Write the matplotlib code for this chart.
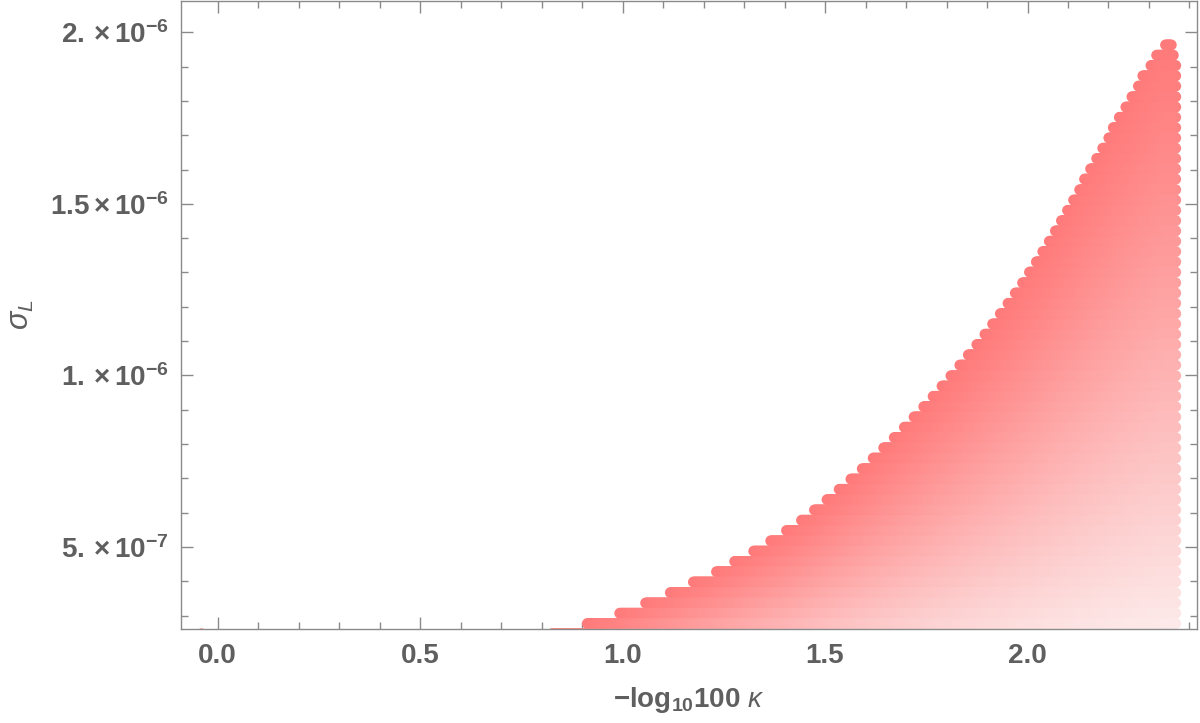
import numpy as np
import matplotlib
matplotlib.use("Agg")
import matplotlib.pyplot as plt
from matplotlib.ticker import FixedLocator, FixedFormatter

plt.rcParams['mathtext.fontset'] = 'custom'
plt.rcParams['mathtext.rm'] = 'Liberation Sans:bold'
plt.rcParams['mathtext.bf'] = 'Liberation Sans:bold'
plt.rcParams['mathtext.it'] = 'Liberation Sans:italic'
plt.rcParams['font.family'] = ['Liberation Sans', 'DejaVu Sans']

# ---- data ----
# sigma_L value of each horizontal row of points
row_sigma = [1.963e-6, 1.933e-6, 1.903e-6, 1.873e-6, 1.843e-6, 1.812e-6, 1.782e-6, 1.752e-6,
             1.722e-6, 1.692e-6, 1.662e-6, 1.632e-6, 1.602e-6, 1.572e-6, 1.541e-6, 1.511e-6,
             1.481e-6, 1.451e-6, 1.421e-6, 1.391e-6, 1.361e-6, 1.331e-6, 1.301e-6, 1.270e-6,
             1.240e-6, 1.210e-6, 1.180e-6, 1.150e-6, 1.120e-6, 1.090e-6, 1.060e-6, 1.030e-6,
             0.999e-6, 0.969e-6, 0.939e-6, 0.909e-6, 0.879e-6, 0.849e-6, 0.819e-6, 0.789e-6,
             0.759e-6, 0.728e-6, 0.698e-6, 0.668e-6, 0.638e-6, 0.608e-6, 0.578e-6, 0.548e-6,
             0.518e-6, 0.488e-6, 0.458e-6, 0.428e-6, 0.398e-6, 0.367e-6, 0.337e-6, 0.307e-6,
             0.277e-6, 0.247e-6]
# smallest -log10(100 kappa) of each row
row_start = [2.341, 2.319, 2.305, 2.285, 2.274, 2.258, 2.243, 2.227,
             2.212, 2.201, 2.186, 2.171, 2.156, 2.141, 2.129, 2.114,
             2.099, 2.084, 2.069, 2.054, 2.038, 2.022, 2.005, 1.988,
             1.970, 1.952, 1.933, 1.914, 1.895, 1.875, 1.854, 1.833,
             1.811, 1.789, 1.767, 1.744, 1.720, 1.696, 1.671, 1.645,
             1.619, 1.592, 1.564, 1.535, 1.505, 1.474, 1.442, 1.405,
             1.366, 1.324, 1.277, 1.232, 1.175, 1.118, 1.057, 0.993,
             0.913, 0.825]
# largest -log10(100 kappa) of each row
row_end = [2.355, 2.360] + [2.366] * 56
# isolated point near the bottom-left
lone_x = [-0.04]
lone_y = [2.47e-7]

xticks_major = [0.0, 0.5, 1.0, 1.5, 2.0]
xtick_labels = ["0.0", "0.5", "1.0", "1.5", "2.0"]
yticks_major = [5e-7, 1e-6, 1.5e-6, 2e-6]
ytick_labels = [r"$5.\times10^{-7}$", r"$1.\times10^{-6}$", r"$1.5\times10^{-6}$", r"$2.\times10^{-6}$"]

# ---- figure ----
fig = plt.figure(figsize=(12, 7.23), dpi=100)
ax = fig.add_axes([181 / 1200, 1 - 628.7 / 723, (1197 - 181) / 1200, (628.7 - 1) / 723])

red = np.array([1.0, 0.48, 0.48])
pale = np.array([0.99, 0.925, 0.925])

starts = np.array(row_start)
sig = np.array(row_sigma)
order = np.argsort(starts)


def edge_sigma(x):
    return np.interp(x, starts[order], sig[order])


for ys, xs, xe in zip(row_sigma, row_start, row_end):
    n = max(2, int((xe - xs) / 0.003) + 1)
    xx = np.linspace(xs, xe, n)
    r = ys / edge_sigma(xx)
    f = np.clip((1 - r) / 0.88, 0, 1) ** 1.2
    cols = red[None, :] * (1 - f[:, None]) + pale[None, :] * f[:, None]
    ax.scatter(xx, np.full_like(xx, ys), s=62, c=cols, edgecolors='none', zorder=2)

ax.scatter(lone_x, lone_y, s=62, c=[red], edgecolors='none', zorder=2)

ax.set_xlim(-0.0906, 2.4186)
ax.set_ylim(2.62e-7, 2.091e-6)

gray = '#8a8a8a'
for sp in ax.spines.values():
    sp.set_color(gray)
    sp.set_linewidth(1.0)

ax.xaxis.set_major_locator(FixedLocator(xticks_major))
ax.xaxis.set_major_formatter(FixedFormatter(xtick_labels))
ax.xaxis.set_minor_locator(FixedLocator(np.arange(-0.0, 2.41, 0.1)))
ax.yaxis.set_major_locator(FixedLocator(yticks_major))
ax.yaxis.set_major_formatter(FixedFormatter(ytick_labels))
ax.yaxis.set_minor_locator(FixedLocator(np.arange(3e-7, 2.05e-6, 1e-7)))

ax.tick_params(which='both', direction='in', top=True, right=True, color=gray, width=1.0)
ax.tick_params(which='major', length=8.5)
ax.tick_params(which='minor', length=5)
ax.tick_params(axis='x', labelsize=20, labelcolor='#5f5f5f', pad=10)
ax.tick_params(axis='y', labelsize=20, labelcolor='#5f5f5f', pad=9)
for lab in ax.get_xticklabels():
    lab.set_fontweight('bold')

fig.text(689 / 1200, 1 - 700 / 723, r"$-\mathbf{log}_{\mathbf{10}}\mathbf{100}\ \mathit{\kappa}$",
         ha='center', va='center', fontsize=20, color='#5f5f5f')
fig.text(21 / 1200, 1 - 315 / 723, r"$\mathit{\sigma}_{\mathit{L}}$", ha='center', va='center',
         rotation=90, fontsize=22, color='#5f5f5f')

fig.savefig("out.png", dpi=100)
